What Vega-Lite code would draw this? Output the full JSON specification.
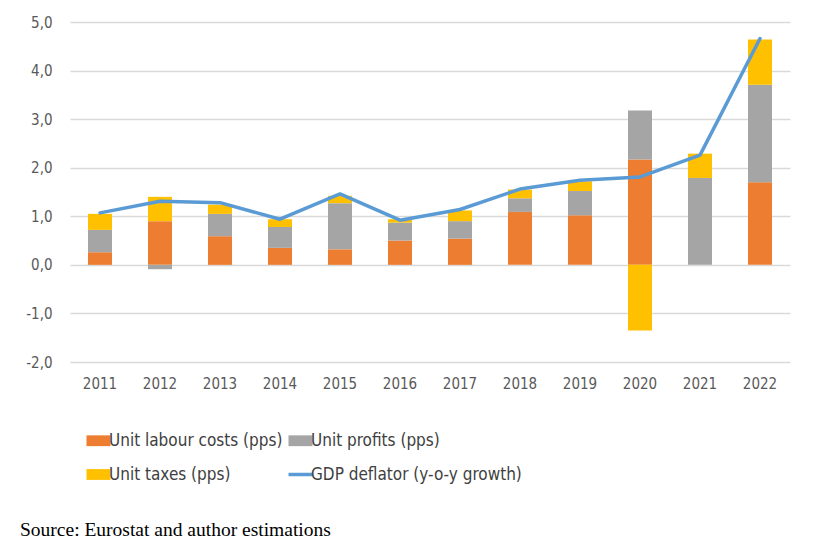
{
  "$schema": "https://vega.github.io/schema/vega-lite/v6.json",
  "width": 720,
  "height": 340,
  "autosize": {"type": "none"},
  "padding": {"left": 70, "top": 22, "right": 29, "bottom": 189},
  "background": "white",
  "title": {
    "text": "Source: Eurostat and author estimations",
    "orient": "bottom",
    "anchor": "start",
    "frame": "group",
    "dx": -50,
    "offset": 38,
    "font": "Liberation Serif",
    "fontSize": 19.5,
    "fontWeight": "normal",
    "color": "#000000"
  },
  "config": {
    "view": {"stroke": null},
    "font": "Liberation Sans Narrow, DejaVu Sans Condensed, Roboto",
    "axis": {
      "labelFont": "Liberation Sans Narrow, DejaVu Sans Condensed, Roboto",
      "labelFontSize": 15,
      "labelColor": "#595959",
      "domain": false,
      "ticks": false,
      "title": null
    }
  },
  "data": {
    "values": [
      {"year": "2011", "series": "Unit labour costs (pps)", "ord": 1, "value": 0.26},
      {"year": "2011", "series": "Unit profits (pps)", "ord": 2, "value": 0.46},
      {"year": "2011", "series": "Unit taxes (pps)", "ord": 3, "value": 0.33},
      {"year": "2011", "series": "GDP deflator (y-o-y growth)", "ord": 4, "value": 1.07},
      {"year": "2012", "series": "Unit labour costs (pps)", "ord": 1, "value": 0.90},
      {"year": "2012", "series": "Unit profits (pps)", "ord": 2, "value": -0.09},
      {"year": "2012", "series": "Unit taxes (pps)", "ord": 3, "value": 0.50},
      {"year": "2012", "series": "GDP deflator (y-o-y growth)", "ord": 4, "value": 1.31},
      {"year": "2013", "series": "Unit labour costs (pps)", "ord": 1, "value": 0.59},
      {"year": "2013", "series": "Unit profits (pps)", "ord": 2, "value": 0.46},
      {"year": "2013", "series": "Unit taxes (pps)", "ord": 3, "value": 0.19},
      {"year": "2013", "series": "GDP deflator (y-o-y growth)", "ord": 4, "value": 1.28},
      {"year": "2014", "series": "Unit labour costs (pps)", "ord": 1, "value": 0.35},
      {"year": "2014", "series": "Unit profits (pps)", "ord": 2, "value": 0.43},
      {"year": "2014", "series": "Unit taxes (pps)", "ord": 3, "value": 0.16},
      {"year": "2014", "series": "GDP deflator (y-o-y growth)", "ord": 4, "value": 0.94},
      {"year": "2015", "series": "Unit labour costs (pps)", "ord": 1, "value": 0.32},
      {"year": "2015", "series": "Unit profits (pps)", "ord": 2, "value": 0.95},
      {"year": "2015", "series": "Unit taxes (pps)", "ord": 3, "value": 0.15},
      {"year": "2015", "series": "GDP deflator (y-o-y growth)", "ord": 4, "value": 1.46},
      {"year": "2016", "series": "Unit labour costs (pps)", "ord": 1, "value": 0.50},
      {"year": "2016", "series": "Unit profits (pps)", "ord": 2, "value": 0.37},
      {"year": "2016", "series": "Unit taxes (pps)", "ord": 3, "value": 0.07},
      {"year": "2016", "series": "GDP deflator (y-o-y growth)", "ord": 4, "value": 0.92},
      {"year": "2017", "series": "Unit labour costs (pps)", "ord": 1, "value": 0.54},
      {"year": "2017", "series": "Unit profits (pps)", "ord": 2, "value": 0.36},
      {"year": "2017", "series": "Unit taxes (pps)", "ord": 3, "value": 0.22},
      {"year": "2017", "series": "GDP deflator (y-o-y growth)", "ord": 4, "value": 1.14},
      {"year": "2018", "series": "Unit labour costs (pps)", "ord": 1, "value": 1.09},
      {"year": "2018", "series": "Unit profits (pps)", "ord": 2, "value": 0.28},
      {"year": "2018", "series": "Unit taxes (pps)", "ord": 3, "value": 0.18},
      {"year": "2018", "series": "GDP deflator (y-o-y growth)", "ord": 4, "value": 1.56},
      {"year": "2019", "series": "Unit labour costs (pps)", "ord": 1, "value": 1.02},
      {"year": "2019", "series": "Unit profits (pps)", "ord": 2, "value": 0.50},
      {"year": "2019", "series": "Unit taxes (pps)", "ord": 3, "value": 0.20},
      {"year": "2019", "series": "GDP deflator (y-o-y growth)", "ord": 4, "value": 1.74},
      {"year": "2020", "series": "Unit labour costs (pps)", "ord": 1, "value": 2.17},
      {"year": "2020", "series": "Unit profits (pps)", "ord": 2, "value": 1.01},
      {"year": "2020", "series": "Unit taxes (pps)", "ord": 3, "value": -1.35},
      {"year": "2020", "series": "GDP deflator (y-o-y growth)", "ord": 4, "value": 1.81},
      {"year": "2021", "series": "Unit labour costs (pps)", "ord": 1, "value": 0.0},
      {"year": "2021", "series": "Unit profits (pps)", "ord": 2, "value": 1.79},
      {"year": "2021", "series": "Unit taxes (pps)", "ord": 3, "value": 0.50},
      {"year": "2021", "series": "GDP deflator (y-o-y growth)", "ord": 4, "value": 2.26},
      {"year": "2022", "series": "Unit labour costs (pps)", "ord": 1, "value": 1.70},
      {"year": "2022", "series": "Unit profits (pps)", "ord": 2, "value": 2.01},
      {"year": "2022", "series": "Unit taxes (pps)", "ord": 3, "value": 0.93},
      {"year": "2022", "series": "GDP deflator (y-o-y growth)", "ord": 4, "value": 4.66}
    ]
  },
  "encoding": {
    "x": {
      "field": "year",
      "type": "ordinal",
      "scale": {"paddingInner": 0.6, "paddingOuter": 0.3},
      "axis": {"labelAngle": 0, "labelPadding": 14, "grid": false}
    },
    "color": {
      "field": "series",
      "type": "nominal",
      "scale": {
        "domain": ["Unit labour costs (pps)", "Unit taxes (pps)", "Unit profits (pps)", "GDP deflator (y-o-y growth)"],
        "range": ["#ed7d31", "#ffc000", "#a5a5a5", "#5b9bd5"]
      },
      "legend": {
        "title": null,
        "orient": "none",
        "legendX": 20,
        "legendY": 410,
        "columns": 2,
        "columnPadding": -2,
        "rowPadding": 16,
        "padding": 0,
        "symbolSize": 576,
        "symbolType": "M-1,-0.45H1V0.45H-1Z",
        "labelFont": "Liberation Sans Narrow, DejaVu Sans Condensed, Roboto",
        "labelFontSize": 17,
        "labelColor": "#404040",
        "labelOffset": 2,
        "labelLimit": 300,
        "encode": {
          "symbols": {
            "update": {
              "shape": {"signal": "datum.value === 'GDP deflator (y-o-y growth)' ? 'M-1,0H1' : 'M-1,-0.45H1V0.45H-1Z'"},
              "fill": {"scale": "color", "field": "value"},
              "stroke": {"scale": "color", "field": "value"},
              "strokeWidth": {"signal": "datum.value === 'GDP deflator (y-o-y growth)' ? 3.5 : 0"},
              "opacity": {"value": 1}
            }
          }
        }
      }
    }
  },
  "layer": [
    {
      "transform": [{"filter": "datum.ord < 4"}],
      "mark": {"type": "bar"},
      "encoding": {
        "y": {
          "field": "value",
          "type": "quantitative",
          "stack": "zero",
          "scale": {"domain": [-2, 5]},
          "axis": {
            "values": [-2, -1, 0, 1, 2, 3, 4, 5],
            "labelExpr": "replace(replace(format(datum.value, '.1f'), '.', ','), '\u2212', '-')",
            "labelPadding": 18,
            "grid": true,
            "gridColor": "#d9d9d9",
            "gridWidth": 1.3
          }
        },
        "order": {"field": "ord", "type": "quantitative"}
      }
    },
    {
      "transform": [{"filter": "datum.ord == 4"}],
      "mark": {"type": "line", "strokeWidth": 3.5, "strokeJoin": "round", "strokeCap": "round"},
      "encoding": {
        "y": {"field": "value", "type": "quantitative"}
      }
    }
  ]
}
